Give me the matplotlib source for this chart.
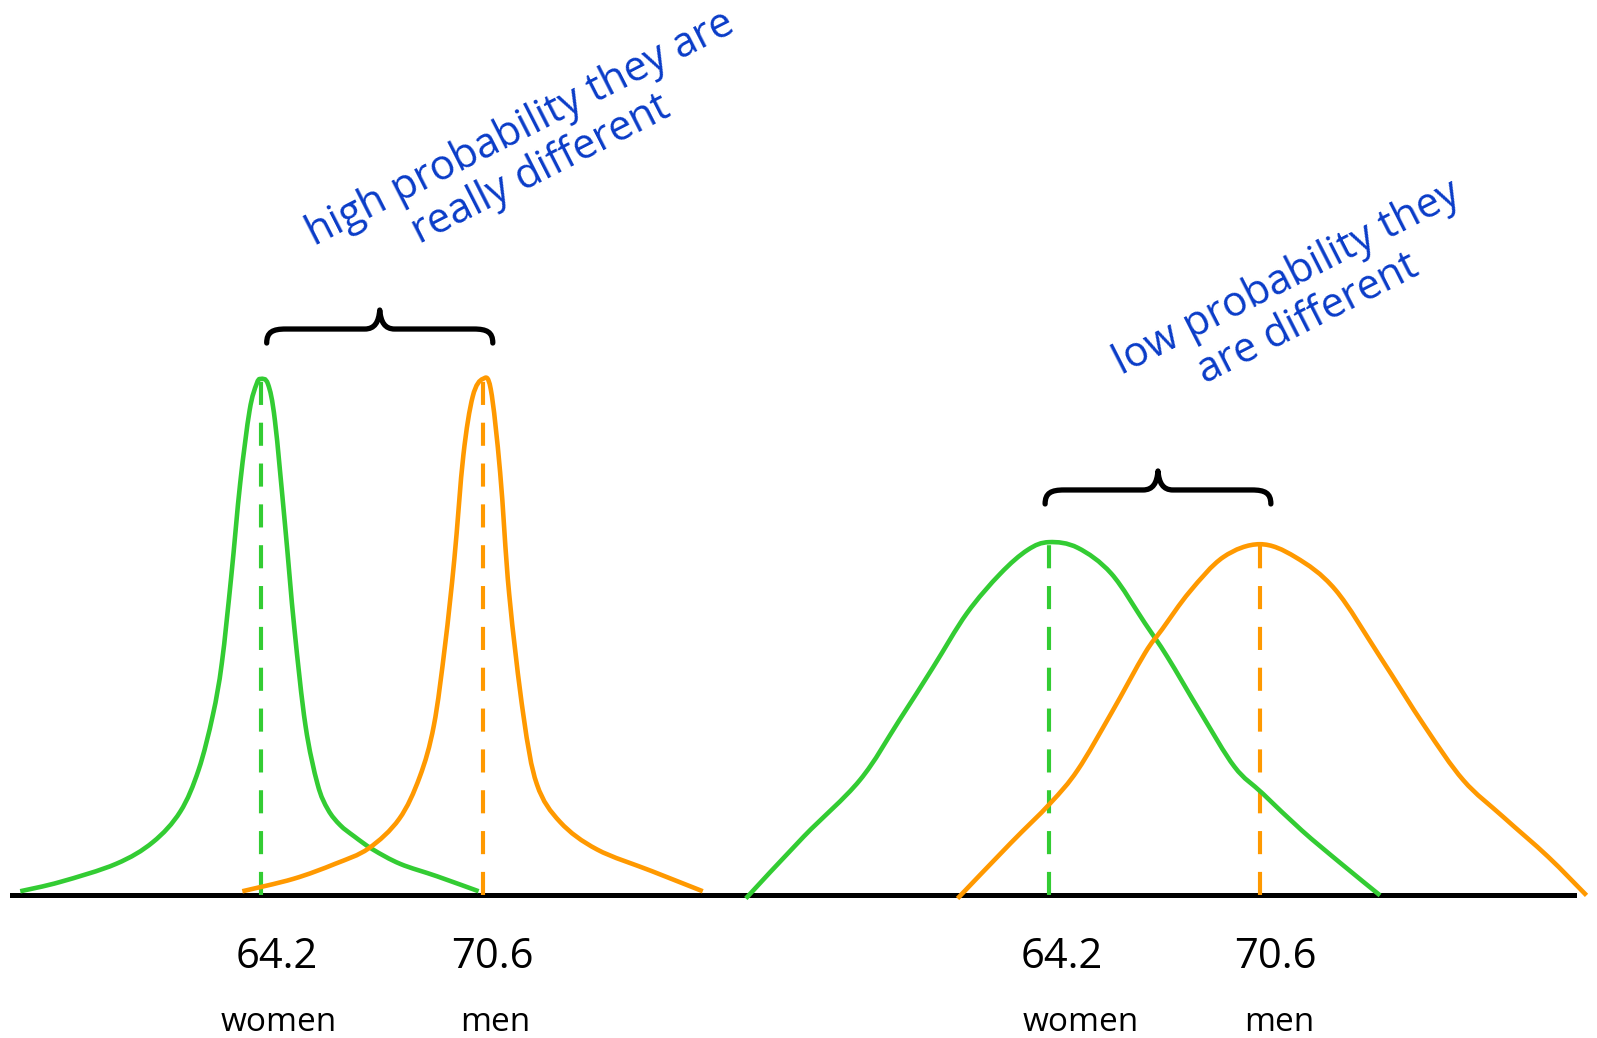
import matplotlib
matplotlib.use("Agg")
import matplotlib.pyplot as plt
from matplotlib.path import Path
from matplotlib.patches import PathPatch
from matplotlib.transforms import IdentityTransform

# ---------------- data ----------------
means = [64.2, 70.6]
mean_labels = ["64.2", "70.6"]
groups = ["women", "men"]

# left panel: narrow distributions (x = height in inches, y = relative density)
narrow_women_x = [57.27, 58.42, 60.03, 61.09, 61.88, 62.41, 62.82, 63.08, 63.35, 63.61,
                  63.88, 64.08, 64.20, 64.41, 64.61, 64.90, 65.17, 65.49, 65.84, 66.14,
                  66.49, 66.90, 67.43, 68.22, 69.28, 70.48]
narrow_women_y = [0.008, 0.026, 0.061, 0.103, 0.162, 0.243, 0.349, 0.450, 0.617, 0.799,
                  0.939, 0.990, 1.000, 0.990, 0.919, 0.718, 0.517, 0.329, 0.215, 0.166,
                  0.136, 0.114, 0.089, 0.061, 0.037, 0.008]
narrow_men_x = [63.67, 65.14, 66.34, 67.31, 68.19, 68.78, 69.19, 69.51, 69.78, 70.04,
                70.31, 70.60, 70.83, 71.10, 71.36, 71.77, 72.16, 72.83, 73.89, 75.47, 76.94]
narrow_men_y = [0.008, 0.032, 0.061, 0.091, 0.148, 0.229, 0.329, 0.483, 0.651, 0.852,
                0.966, 1.000, 0.980, 0.819, 0.584, 0.349, 0.215, 0.142, 0.089, 0.047, 0.008]

# right panel: wide distributions
wide_women_x = [54.99, 56.75, 58.45, 59.65, 60.68, 61.70, 62.72, 63.55, 64.20, 65.07,
                66.09, 67.11, 67.79, 68.81, 69.83, 70.69, 71.87, 73.04, 74.25]
wide_women_y = [-0.006, 0.114, 0.223, 0.339, 0.442, 0.546, 0.623, 0.669, 0.684, 0.673,
                0.623, 0.527, 0.462, 0.353, 0.249, 0.197, 0.126, 0.063, 0.000]
wide_men_x = [61.42, 63.03, 64.23, 65.07, 66.09, 67.11, 67.63, 68.47, 69.49, 70.60,
              71.68, 72.89, 74.25, 75.61, 76.78, 77.99, 79.35, 80.52]
wide_men_y = [-0.006, 0.101, 0.178, 0.243, 0.353, 0.469, 0.515, 0.588, 0.655, 0.680,
              0.655, 0.592, 0.462, 0.327, 0.223, 0.152, 0.075, 0.000]

notes = ["high probability they are\nreally different",
         "low probability they\nare different"]

# ---------------- style ----------------
GREEN = "#33cc33"
ORANGE = "#ff9900"
BLUE = "#0a3cc8"
FONT = "Open Sans"
LW = 3.3
plt.rcParams["font.family"] = [FONT, "DejaVu Sans"]

W, H = 1568.0, 1019.0          # layout units of the reference
fig = plt.figure(figsize=(15.97, 10.38), dpi=100)
ylim = (-(H - 879) / 507.0, 879 / 507.0)

axL = fig.add_axes([10 / W, 0, 710 / W, 1])
axR = fig.add_axes([720 / W, 0, 828 / W, 1])
axL.set_xlim(56.98, 77.82)
axR.set_xlim(54.61, 80.22)
for ax in (axL, axR):
    ax.set_ylim(*ylim)
    ax.axis("off")
    ax.axhline(0, color="black", lw=3.6, solid_capstyle="projecting", zorder=1)


def smooth_path(xs, ys):
    """Catmull-Rom curve through the read points, as cubic Bezier segments."""
    pts = list(zip(xs, ys))
    n = len(pts)
    verts = [pts[0]]
    codes = [Path.MOVETO]
    for i in range(n - 1):
        p0 = pts[i - 1] if i > 0 else pts[i]
        p1 = pts[i]
        p2 = pts[i + 1]
        p3 = pts[i + 2] if i + 2 < n else pts[i + 1]
        c1 = (p1[0] + (p2[0] - p0[0]) / 6.0, p1[1] + (p2[1] - p0[1]) / 6.0)
        c2 = (p2[0] - (p3[0] - p1[0]) / 6.0, p2[1] - (p3[1] - p1[1]) / 6.0)
        verts += [c1, c2, p2]
        codes += [Path.CURVE4] * 3
    return Path(verts, codes)


panels = [
    (axL, [(narrow_women_x, narrow_women_y), (narrow_men_x, narrow_men_y)],
     [16, 9], [18, 12]),
    (axR, [(wide_women_x, wide_women_y), (wide_men_x, wide_men_y)],
     [12, 15], [31, 19]),
]
colors = [GREEN, ORANGE]

for ax, curves, num_dx, word_dx in panels:
    peaks = []
    for (xs, ys), c in zip(curves, colors):
        patch = PathPatch(smooth_path(xs, ys), fill=False, edgecolor=c, lw=LW,
                          capstyle="butt", joinstyle="round", zorder=3, clip_on=False)
        ax.add_patch(patch)
        peaks.append(max(ys))
    for m, pk, c in zip(means, peaks, colors):
        ax.vlines(m, 0, pk, colors=c, lw=LW * 0.9, linestyles=(0, (5.6, 4.3)), zorder=2)
    for m, lab, g, dn, dw in zip(means, mean_labels, groups, num_dx, word_dx):
        ax.annotate(lab, xy=(m, 0), xytext=(dn * 1.02, -73), textcoords="offset pixels",
                    ha="center", va="baseline", fontsize=30, color="black")
        ax.annotate(g, xy=(m, 0), xytext=(dw * 1.02, -136), textcoords="offset pixels",
                    ha="center", va="baseline", fontsize=24, color="black")

fig.canvas.draw()


def brace(ax, xa, xb, yline, dx0, dx1):
    X0, Y = ax.transData.transform((xa, yline))
    X1, _ = ax.transData.transform((xb, yline))
    X0 += dx0
    X1 += dx1
    Xm = (X0 + X1) / 2.0
    verts = [
        (X0, Y - 14),
        (X0, Y - 3), (X0 + 6, Y), (X0 + 19, Y),
        (Xm - 15, Y),
        (Xm - 5, Y), (Xm - 1, Y + 7), (Xm, Y + 19),
        (Xm + 1, Y + 7), (Xm + 5, Y), (Xm + 15, Y),
        (X1 - 19, Y),
        (X1 - 6, Y), (X1, Y - 3), (X1, Y - 14),
    ]
    codes = [Path.MOVETO,
             Path.CURVE4, Path.CURVE4, Path.CURVE4,
             Path.LINETO,
             Path.CURVE4, Path.CURVE4, Path.CURVE4,
             Path.CURVE4, Path.CURVE4, Path.CURVE4,
             Path.LINETO,
             Path.CURVE4, Path.CURVE4, Path.CURVE4]
    p = PathPatch(Path(verts, codes), fill=False, lw=3.8, edgecolor="black",
                  capstyle="round", joinstyle="round", transform=IdentityTransform())
    fig.add_artist(p)


brace(axL, means[0], means[1], (879 - 323) / 507.0, 6, 10)
brace(axR, means[0], means[1], (879 - 481) / 507.0, -4, 11)

fig.text(521 / W, 1 - 146 / H, notes[0], rotation=27, rotation_mode="anchor",
         ha="center", va="center", multialignment="center", fontsize=30,
         color=BLUE, linespacing=1.1)
fig.text(1274 / W, 1 - 293 / H, notes[1], rotation=27, rotation_mode="anchor",
         ha="center", va="center", multialignment="center", fontsize=30,
         color=BLUE, linespacing=1.1)

fig.savefig("out.png", dpi=100, facecolor="white")
